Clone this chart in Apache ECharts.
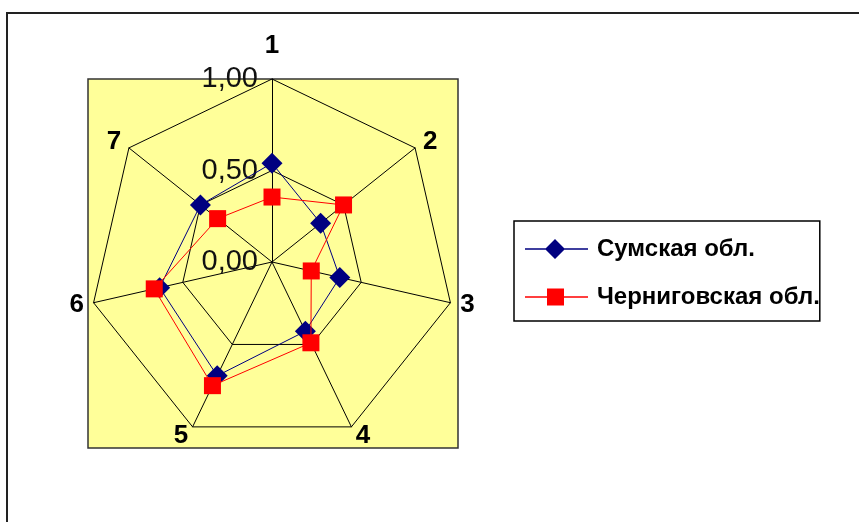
<!DOCTYPE html>
<html>
<head>
<meta charset="utf-8">
<script src="https://cdn.jsdelivr.net/npm/echarts@6/dist/echarts.min.js"></script>
<style>
  html, body { margin: 0; padding: 0; background: #fff; }
  #grafico { width: 859px; height: 522px; }
</style>
</head>
<body>
<div id="grafico"></div>
<script>
// axes 1..7, clockwise from the top
const ejes = ['1', '2', '3', '4', '5', '6', '7']
const sumskaya = [0.54, 0.34, 0.38, 0.42, 0.69, 0.63, 0.50]
const chernigovskaya = [0.355, 0.50, 0.22, 0.49, 0.75, 0.66, 0.38]
const nombres = ['Сумская обл.', 'Черниговская обл.']
const escala = [0, 0.5, 1]

// echarts lays indicators counter-clockwise, so walk the axes backwards
const orden = [0, 6, 5, 4, 3, 2, 1]
const reordenar = arr => orden.map(i => arr[i])

const fuente = '"Liberation Sans", Arial, sans-serif'

const myChart = echarts.init(document.getElementById('grafico'), null, { renderer: 'canvas' })

const option = {
  animation: false,
  backgroundColor: '#fff',
  graphic: [
    {
      type: 'rect',
      z: -10,
      shape: { x: 7, y: 13, width: 900, height: 600 },
      style: { fill: '#fff', stroke: '#222', lineWidth: 2 }
    },
    {
      type: 'rect',
      z: -9,
      shape: { x: 88, y: 79, width: 370, height: 369 },
      style: { fill: '#ffff99', stroke: '#333', lineWidth: 1.5 }
    }
  ],
  legend: {
    orient: 'vertical',
    left: 514,
    top: 221,
    padding: [16, 0, 12, 11],
    itemGap: 24,
    itemWidth: 63,
    itemHeight: 20,
    borderColor: '#000',
    borderWidth: 1.5,
    backgroundColor: '#fff',
    textStyle: {
      fontFamily: fuente,
      fontSize: 24,
      fontWeight: 'bold',
      color: '#000',
      padding: [0, 0, 0, 4]
    },
    data: [
      {
        name: nombres[0],
        icon: 'path://M0,9.3 L63,9.3 L63,10.7 L0,10.7 Z M30,0 L40,10 L30,20 L20,10 Z'
      },
      {
        name: nombres[1],
        icon: 'path://M0,9.3 L63,9.3 L63,10.7 L0,10.7 Z M22,1.5 L39,1.5 L39,18.5 L22,18.5 Z'
      }
    ]
  },
  radar: {
    center: [272, 262],
    radius: 183,
    startAngle: 90,
    splitNumber: escala.length - 1,
    shape: 'polygon',
    nameGap: 10,
    indicator: orden.map(i => ({
      name: ejes[i],
      min: escala[0],
      max: escala[escala.length - 1],
      axisLabel: { show: i === 0 }
    })),
    axisName: {
      color: '#000',
      fontFamily: fuente,
      fontSize: 26,
      fontWeight: 'bold',
      formatter: name => (name === '1' ? '{arriba|1}' : name),
      rich: {
        arriba: {
          color: '#000',
          fontFamily: fuente,
          fontSize: 26,
          fontWeight: 'bold',
          padding: [0, 0, 10, 0]
        }
      }
    },
    axisLine: { lineStyle: { color: '#000', width: 1 } },
    splitLine: { lineStyle: { color: '#000', width: 1 } },
    splitArea: { show: false },
    axisTick: { show: false },
    axisLabel: {
      show: false,
      margin: 14,
      color: '#111',
      fontFamily: fuente,
      fontSize: 29,
      formatter: v => v.toFixed(2).replace('.', ',')
    }
  },
  series: [
    {
      type: 'radar',
      z: 2,
      data: [
        {
          name: nombres[0],
          value: reordenar(sumskaya),
          symbol: 'diamond',
          symbolSize: 21,
          lineStyle: { color: '#000080', width: 1 },
          itemStyle: { color: '#000080' }
        }
      ]
    },
    {
      type: 'radar',
      z: 3,
      data: [
        {
          name: nombres[1],
          value: reordenar(chernigovskaya),
          symbol: 'rect',
          symbolSize: 17,
          lineStyle: { color: '#ff0000', width: 1 },
          itemStyle: { color: '#ff0000' }
        }
      ]
    }
  ]
}

myChart.setOption(option)
</script>
</body>
</html>
